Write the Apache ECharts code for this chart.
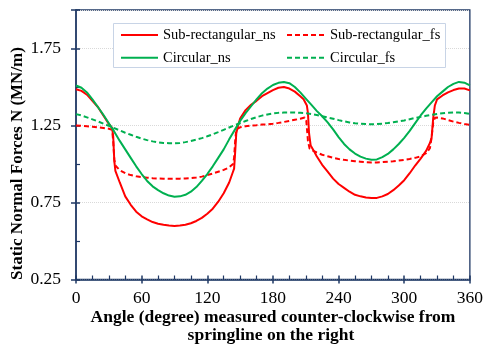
<!DOCTYPE html>
<html>
<head>
<meta charset="utf-8">
<style>
  html, body { margin: 0; padding: 0; background: #fff; }
  #chart { width: 486px; height: 345px; }
</style>
<script src="https://cdn.jsdelivr.net/npm/echarts@6/dist/echarts.min.js"></script>
</head>
<body>
<div id="chart"></div>
<script>
// Static normal forces around the lining (MN/m) versus angle from the right springline

// Shared angle grid (degrees) for the circular section
const angleDeg = [
  0, 5, 10, 15, 20, 25, 30, 35, 40, 45,
  50, 55, 60, 65, 70, 75, 80, 85, 90, 95,
  100, 105, 110, 115, 120, 125, 130, 135, 140, 145,
  150, 155, 160, 165, 170, 175, 180, 185, 190, 195,
  200, 205, 210, 215, 220, 225, 230, 235, 240, 245,
  250, 255, 260, 265, 270, 275, 280, 285, 290, 295,
  300, 305, 310, 315, 320, 325, 330, 335, 340, 345,
  350, 355, 360
];

const circularNs = [
  1.51, 1.495, 1.465, 1.42, 1.37, 1.32, 1.265, 1.21, 1.15, 1.095,
  1.04, 0.985, 0.935, 0.89, 0.855, 0.83, 0.81, 0.795, 0.787, 0.79,
  0.80, 0.82, 0.85, 0.89, 0.935, 0.985, 1.04, 1.095, 1.16, 1.22,
  1.28, 1.33, 1.375, 1.42, 1.46, 1.49, 1.513, 1.527, 1.532, 1.525,
  1.50, 1.465, 1.425, 1.385, 1.345, 1.31, 1.27, 1.225, 1.175, 1.13,
  1.095, 1.068, 1.048, 1.035, 1.028, 1.03, 1.045, 1.065, 1.095, 1.13,
  1.17, 1.215, 1.265, 1.315, 1.36, 1.40, 1.44, 1.47, 1.50, 1.52,
  1.533, 1.528, 1.51
];

const circularFs = [
  1.324, 1.315, 1.303, 1.29, 1.277, 1.262, 1.248, 1.233, 1.218, 1.203,
  1.19, 1.177, 1.165, 1.155, 1.147, 1.141, 1.137, 1.135, 1.135, 1.137,
  1.142, 1.149, 1.158, 1.168, 1.18, 1.193, 1.207, 1.222, 1.237, 1.252,
  1.265, 1.279, 1.292, 1.304, 1.314, 1.322, 1.328, 1.332, 1.334, 1.334,
  1.334, 1.332, 1.33, 1.325, 1.318, 1.31, 1.302, 1.294, 1.285, 1.277,
  1.27, 1.265, 1.261, 1.259, 1.258, 1.259, 1.262, 1.266, 1.271, 1.277,
  1.283, 1.291, 1.299, 1.306, 1.313, 1.319, 1.325, 1.329, 1.332, 1.334,
  1.334, 1.331, 1.325
];

// Sub-rectangular section: extra angles around the corner jumps
const subRectNsAngle = [
  0, 5, 10, 15, 20, 25, 30, 33, 34, 35, 36, 40, 45, 50, 55, 60, 65, 70, 75, 80, 85, 90,
  95, 100, 105, 110, 115, 120, 125, 130, 135, 140, 143, 144.5, 145.5, 146.5, 148, 150,
  155, 160, 165, 170, 175, 180, 185, 190, 195, 200, 205, 208, 211, 212, 213, 214.5, 217,
  220, 225, 230, 235, 240, 245, 250, 255, 260, 265, 270, 275, 280, 285, 290, 295, 300,
  305, 310, 315, 320, 323.5, 325, 326.5, 328, 330, 335, 340, 345, 350, 355, 360
];
const subRectNs = [
  1.485, 1.475, 1.45, 1.41, 1.37, 1.315, 1.26, 1.235, 1.18, 1.02, 0.955, 0.88, 0.79, 0.735, 0.69, 0.66, 0.64, 0.623, 0.612, 0.605, 0.60, 0.598,
  0.60, 0.605, 0.615, 0.63, 0.65, 0.677, 0.71, 0.755, 0.81, 0.88, 0.94, 0.97, 1.08, 1.20, 1.245, 1.295,
  1.35, 1.385, 1.41, 1.44, 1.46, 1.48, 1.495, 1.50, 1.49, 1.47, 1.44, 1.42, 1.38, 1.33, 1.20, 1.12, 1.09,
  1.05, 0.995, 0.95, 0.905, 0.87, 0.845, 0.82, 0.80, 0.79, 0.782, 0.779, 0.78, 0.79, 0.805, 0.83, 0.86, 0.895,
  0.94, 0.99, 1.035, 1.085, 1.136, 1.17, 1.30, 1.38, 1.42, 1.445, 1.465, 1.48, 1.49, 1.49, 1.478
];

const subRectFsAngle = [
  0, 5, 10, 15, 20, 25, 30, 33, 34, 35, 36, 38, 40, 45, 50, 55, 60, 65, 70, 75, 80, 85, 90,
  95, 100, 105, 110, 115, 120, 125, 130, 135, 140, 143.5, 144.5, 145.5, 146.5, 150,
  155, 160, 165, 170, 175, 180, 185, 190, 195, 200, 205, 209, 210.5, 212, 213.5, 217,
  220, 225, 230, 235, 240, 245, 250, 255, 260, 265, 270, 275, 280, 285, 290, 295, 300,
  305, 310, 315, 320, 323.5, 325, 326.5, 328, 330, 335, 340, 345, 350, 355, 360
];
const subRectFs = [
  1.25, 1.248, 1.245, 1.242, 1.238, 1.234, 1.229, 1.222, 1.15, 1.03, 0.99, 0.975, 0.96, 0.94, 0.928, 0.92, 0.915, 0.911, 0.908, 0.906, 0.905, 0.904, 0.904,
  0.905, 0.906, 0.908, 0.912, 0.918, 0.928, 0.938, 0.95, 0.962, 0.978, 1.0, 1.04, 1.15, 1.225, 1.238,
  1.245, 1.25, 1.252, 1.256, 1.258, 1.262, 1.267, 1.273, 1.28, 1.287, 1.294, 1.302, 1.28, 1.15, 1.10, 1.085,
  1.075, 1.06, 1.05, 1.04, 1.033, 1.027, 1.022, 1.018, 1.015, 1.012, 1.01, 1.01, 1.012, 1.015, 1.018, 1.022, 1.027,
  1.033, 1.04, 1.05, 1.07, 1.103, 1.17, 1.27, 1.30, 1.302, 1.296, 1.285, 1.275, 1.267, 1.26, 1.254
];

const seriesNames = ['Sub-rectangular_ns', 'Sub-rectangular_fs', 'Circular_ns', 'Circular_fs'];
const xAxisTitle = ['Angle (degree) measured counter-clockwise from', 'springline on the right'];
const yAxisTitle = 'Static Normal Forces N (MN/m)';

const RED = '#ff0000';
const GREEN = '#00b050';
const NAVY = '#1f3864';
const SERIF = '"Liberation Serif", "Times New Roman", serif';

const pairs = (xs, ys) => xs.map((x, i) => [x, ys[i]]);

const chart = echarts.init(document.getElementById('chart'), null, { renderer: 'canvas' });

const lineSeries = (name, xs, ys, color, dashed) => ({
  name,
  type: 'line',
  xAxisIndex: 0,
  yAxisIndex: 0,
  data: pairs(xs, ys),
  symbol: 'none',
  showSymbol: false,
  smooth: false,
  color,
  lineStyle: { color, width: 2, type: dashed ? [5, 3] : 'solid' },
  emphasis: { disabled: true },
  z: 3
});

const xBase = { type: 'value', min: 0, max: 360, interval: 60, gridIndex: 0 };
const yBase = { type: 'value', min: 0.25, max: 2.0, interval: 0.5, gridIndex: 0 };

// legend entries show only the line sample, no marker
const legendCommon = {
  orient: 'vertical',
  top: 27.5,
  padding: 0,
  itemHeight: 14,
  itemGap: 7.7,
  itemStyle: { opacity: 0, borderWidth: 0 },
  textStyle: { color: '#000', fontFamily: SERIF, fontSize: 14.5, lineHeight: 14 },
  selectedMode: false,
  z: 10
};

chart.setOption({
  animation: false,
  backgroundColor: '#ffffff',
  textStyle: { fontFamily: SERIF },
  grid: {
    left: 76, right: 13, top: 10, bottom: 65.5,
    containLabel: false,
    show: true,
    borderColor: NAVY,
    borderWidth: 1.3,
    backgroundColor: 'transparent'
  },
  xAxis: [
    Object.assign({}, xBase, {
      position: 'bottom',
      axisLine: { show: true, onZero: false, lineStyle: { color: NAVY, width: 1.5 } },
      axisTick: { show: true, inside: true, length: 4, lineStyle: { color: NAVY, width: 1.5 } },
      minorTick: { show: true, splitNumber: 4, length: 4, lineStyle: { color: NAVY, width: 1.2 } },
      axisLabel: { color: '#000', fontFamily: SERIF, fontSize: 17.5, margin: 10 },
      splitLine: { show: false }
    }),
    // outer half of the major ticks
    Object.assign({}, xBase, {
      position: 'bottom',
      axisLine: { show: false, onZero: false },
      axisTick: { show: true, inside: false, length: 4, lineStyle: { color: NAVY, width: 1.5 } },
      axisLabel: { show: false },
      splitLine: { show: false }
    })
  ],
  yAxis: [
    Object.assign({}, yBase, {
      position: 'left',
      axisLine: { show: true, onZero: false, lineStyle: { color: NAVY, width: 1.5 } },
      axisTick: { show: true, inside: true, length: 4, lineStyle: { color: NAVY, width: 1.5 } },
      minorTick: { show: true, splitNumber: 2, length: 4, lineStyle: { color: NAVY, width: 1.2 } },
      axisLabel: {
        color: '#000', fontFamily: SERIF, fontSize: 17.5, margin: 15,
        showMaxLabel: false,
        formatter: v => v.toFixed(2)
      },
      splitLine: { show: true, lineStyle: { color: '#d9d9d9', type: 'dotted', width: 1 } }
    }),
    Object.assign({}, yBase, {
      position: 'left',
      axisLine: { show: false, onZero: false },
      axisTick: { show: true, inside: false, length: 5, lineStyle: { color: NAVY, width: 1.5 } },
      axisLabel: { show: false },
      splitLine: { show: false }
    })
  ],
  legend: [
    Object.assign({}, legendCommon, {
      data: [seriesNames[0], seriesNames[2]],
      left: 120,
      itemWidth: 37
    }),
    Object.assign({}, legendCommon, {
      data: [seriesNames[1], seriesNames[3]],
      left: 286,
      itemWidth: 38
    })
  ],
  graphic: [
    {
      type: 'rect', z: 5, silent: true,
      shape: { x: 113.5, y: 23.5, width: 332, height: 44 },
      style: { fill: '#ffffff', stroke: '#c8d4e6', lineWidth: 1 }
    },
    {
      type: 'text', silent: true, x: 273, y: 317.7,
      style: { text: xAxisTitle[0], font: 'bold 17.5px ' + SERIF, fill: '#000', textAlign: 'center', textVerticalAlign: 'middle' }
    },
    {
      type: 'text', silent: true, x: 271, y: 335.3,
      style: { text: xAxisTitle[1], font: 'bold 17.5px ' + SERIF, fill: '#000', textAlign: 'center', textVerticalAlign: 'middle' }
    },
    {
      type: 'text', silent: true, x: 17.5, y: 163.5, rotation: Math.PI / 2,
      style: { text: yAxisTitle, font: 'bold 17px ' + SERIF, fill: '#000', textAlign: 'center', textVerticalAlign: 'middle' }
    }
  ],
  series: [
    lineSeries(seriesNames[0], subRectNsAngle, subRectNs, RED, false),
    lineSeries(seriesNames[1], subRectFsAngle, subRectFs, RED, true),
    lineSeries(seriesNames[2], angleDeg, circularNs, GREEN, false),
    lineSeries(seriesNames[3], angleDeg, circularFs, GREEN, true)
  ]
});
</script>
</body>
</html>
